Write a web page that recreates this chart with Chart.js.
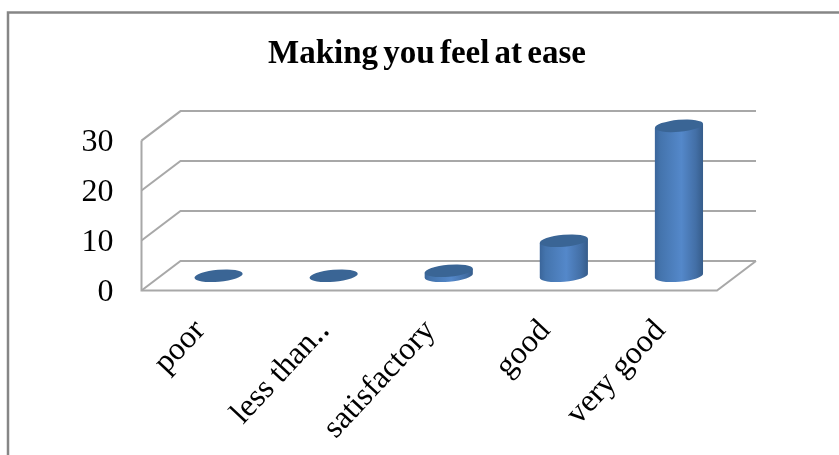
<!DOCTYPE html>
<html>
<head>
<meta charset="utf-8">
<style>html,body{margin:0;padding:0;background:#fff;overflow:hidden}canvas{display:block}</style>
<script src="https://cdn.jsdelivr.net/npm/chart.js@4/dist/chart.umd.min.js"></script>
</head>
<body>
<canvas id="c" width="839" height="455"></canvas>
<script>
const titleText = "Making you feel at ease";
const categories = ["poor", "less than\u2025", "satisfactory", "good", "very good"];
const responses = [0, 0, 1, 7, 30];
const yTicks = [0, 10, 20, 30];

const DEPTH_X = 39, DEPTH_Y = -29.5;
const SERIF = '"Liberation Serif", "Times New Roman", serif';

const frame3d = {
  id: 'frame3d',
  afterLayout(chart) {
    const t = chart.titleBlock;
    if (t && !t.tightened) {
      const draw = t.draw.bind(t);
      t.draw = () => {
        chart.ctx.save();
        chart.ctx.wordSpacing = '-3px';
        draw();
        chart.ctx.restore();
      };
      t.tightened = true;
    }
    const items = chart.scales.x.getLabelItems(chart.chartArea);
    if (items[1]) items[1].options.translation[0] += 9;
  },
  beforeDraw(chart) {
    const c = chart.ctx;
    c.save();
    c.fillStyle = '#fff';
    c.fillRect(0, 0, chart.width, chart.height);
    c.strokeStyle = '#868686';
    c.lineWidth = 2.5;
    c.beginPath();
    c.moveTo(8, chart.height);
    c.lineTo(8, 12.5);
    c.lineTo(chart.width, 12.5);
    c.stroke();
    c.restore();
  },
  beforeDatasetsDraw(chart) {
    const c = chart.ctx, y = chart.scales.y, a = chart.chartArea;
    c.save();
    c.strokeStyle = '#a8a8a8';
    c.lineWidth = 2;
    yTicks.forEach(v => {
      const py = y.getPixelForValue(v);
      c.beginPath();
      c.moveTo(a.left, py);
      c.lineTo(a.left + DEPTH_X, py + DEPTH_Y);
      c.lineTo(a.right + DEPTH_X, py + DEPTH_Y);
      c.stroke();
    });
    const base = y.getPixelForValue(0);
    c.beginPath();
    c.moveTo(a.left, y.getPixelForValue(30));
    c.lineTo(a.left, base);
    c.lineTo(a.right, base);
    c.lineTo(a.right + DEPTH_X, base + DEPTH_Y);
    c.stroke();
    c.restore();
  },
  beforeDatasetDraw(chart, args) {
    const c = chart.ctx;
    const rot = -5 * Math.PI / 180, ry = 6;
    const cs = Math.cos(rot), sn = Math.sin(rot);
    args.meta.data.forEach(bar => {
      const cx = bar.x + DEPTH_X / 2;
      const topY = bar.y + DEPTH_Y / 2;
      const baseY = bar.base + DEPTH_Y / 2;
      const rx = bar.width / 2;
      c.save();
      if (baseY - topY > 0.5) {
        const g = c.createLinearGradient(cx - rx, 0, cx + rx, 0);
        g.addColorStop(0, '#3a659a');
        g.addColorStop(0.12, '#4474ad');
        g.addColorStop(0.55, '#5488ca');
        g.addColorStop(0.85, '#436fa6');
        g.addColorStop(1, '#365c8a');
        c.fillStyle = g;
        c.beginPath();
        c.moveTo(cx - rx * cs, topY - rx * sn);
        c.lineTo(cx - rx * cs, baseY - rx * sn);
        c.ellipse(cx, baseY, rx, ry, rot, Math.PI, 0, true);
        c.lineTo(cx + rx * cs, topY + rx * sn);
        c.closePath();
        c.fill();
      }
      c.fillStyle = '#3a6595';
      c.beginPath();
      c.ellipse(cx, topY, rx, ry, rot, 0, Math.PI * 2);
      c.fill();
      c.restore();
    });
    return false;
  }
};

new Chart(document.getElementById('c'), {
  type: 'bar',
  plugins: [frame3d],
  data: {
    labels: categories,
    datasets: [{ label: titleText, data: responses, backgroundColor: '#4f81bd', barPercentage: 0.42, categoryPercentage: 1, yAxisID: 'y' }]
  },
  options: {
    responsive: false,
    animation: false,
    layout: { padding: { left: 15, right: 0, top: 0, bottom: 0 } },
    plugins: {
      legend: { display: false },
      tooltip: { enabled: false },
      title: {
        display: true,
        text: titleText,
        color: '#000',
        align: 'center',
        font: { family: SERIF, size: 33, weight: 'bold', lineHeight: 1.2 },
        padding: { top: 35, bottom: 66 }
      }
    },
    scales: {
      x: {
        grid: { display: false, drawTicks: false },
        border: { display: false },
        afterFit(s) { s.height = 164.5; },
        ticks: {
          autoSkip: false, minRotation: 47, maxRotation: 47,
          padding: 22, labelOffset: 1,
          color: '#000',
          font: { family: SERIF, size: 32 }
        }
      },
      y: {
        min: 0, max: 30,
        grid: { display: false, drawTicks: false },
        border: { display: false },
        afterFit(s) { s.width = 126.5; },
        afterBuildTicks(s) { s.ticks = yTicks.map(v => ({ value: v })); },
        ticks: {
          padding: 28, labelOffset: 2,
          color: '#000',
          font: { family: SERIF, size: 32 }
        }
      },
      gutter: {
        position: 'right',
        min: 0, max: 1,
        grid: { display: false, drawTicks: false },
        border: { display: false },
        ticks: { display: false },
        afterFit(s) { s.width = 122; }
      }
    }
  }
});
</script>
</body>
</html>
